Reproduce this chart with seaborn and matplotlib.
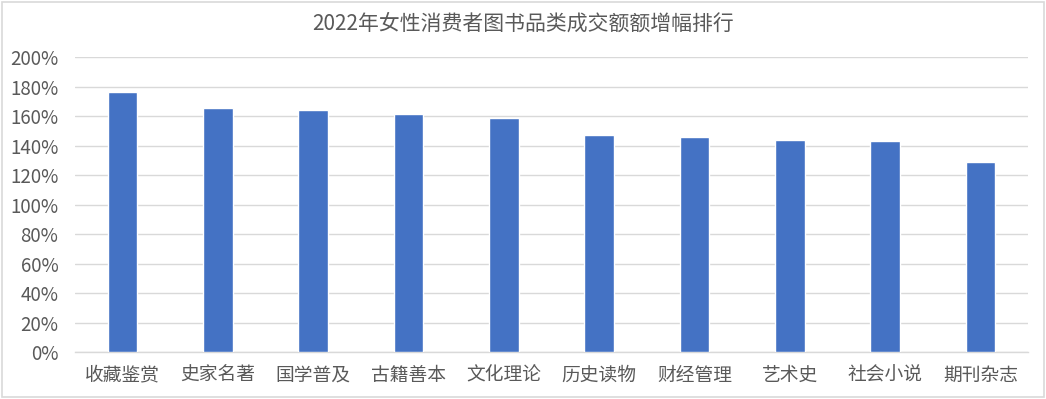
import matplotlib
matplotlib.use("Agg")
import matplotlib.pyplot as plt
import seaborn as sns
import pandas as pd
from matplotlib.ticker import FuncFormatter, MultipleLocator
from matplotlib.patches import Rectangle

categories = ["收藏鉴赏", "史家名著", "国学普及", "古籍善本", "文化理论",
              "历史读物", "财经管理", "艺术史", "社会小说", "期刊杂志"]
growth_pct = [176.5, 165.7, 164.1, 161.4, 158.5, 147.0, 145.8, 143.8, 143.1, 128.9]
title = "2022年女性消费者图书品类成交额额增幅排行"

sns.set_theme(style="white")
plt.rcParams['font.family'] = ['Noto Sans CJK SC', 'DejaVu Sans']

df = pd.DataFrame({"cat": categories, "val": growth_pct})

fig = plt.figure(figsize=(10.46, 3.99), dpi=100)
ax = fig.add_axes([0.0717, 0.117, 0.9111, 0.740])

sns.barplot(data=df, x="cat", y="val", color="#4472C4", saturation=1,
            width=0.31, ax=ax, zorder=3)

ax.set_ylim(0, 200)
ax.set_xlim(-0.5, len(categories) - 0.5)
ax.yaxis.set_major_locator(MultipleLocator(20))
ax.yaxis.set_major_formatter(FuncFormatter(lambda v, p: f"{int(round(v))}%"))
ax.grid(axis="y", color="#D9D9D9", linewidth=1, zorder=0)
ax.set_axisbelow(True)
for s in ["top", "right", "left"]:
    ax.spines[s].set_visible(False)
ax.spines["bottom"].set_color("#D9D9D9")
ax.spines["bottom"].set_linewidth(1)
ax.set_xlabel("")
ax.set_ylabel("")
ax.tick_params(axis="y", length=0, pad=12, labelsize=13.5, labelcolor="#595959")
ax.tick_params(axis="x", length=0, pad=9, labelsize=13.5, labelcolor="#595959")

fig.text(0.5, 0.94, title, ha="center", va="center", fontsize=15, color="#595959")

fig.patches.append(Rectangle((0.002, 0.004), 0.996, 0.992, transform=fig.transFigure,
                             fill=False, edgecolor="#D9D9D9", linewidth=1.2))

fig.savefig("out.png", dpi=100)
